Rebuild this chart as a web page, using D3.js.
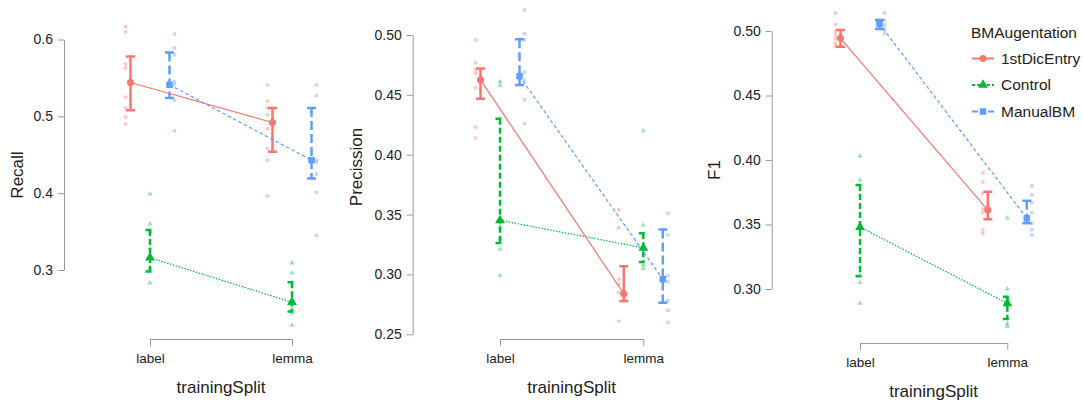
<!DOCTYPE html>
<html>
<head>
<meta charset="utf-8">
<script src="https://cdn.jsdelivr.net/npm/d3@7"></script>
<style>
  body { margin: 0; background: #fff; }
  svg { display: block; font-family: "Liberation Sans", Arial, sans-serif; }
  .axis path, .axis line { stroke: #9a9a9a; stroke-width: 1; }
  .axis text { fill: #222; }
</style>
</head>
<body>
<script>
var width = 1083;
var height = 403;

var splits = ["label", "lemma"];
var groups = ["1stDicEntry", "Control", "ManualBM"];
var colors = ["#F8766D", "#00BA38", "#619CFF"];

// means / CI per group, per split
var recallMean = [[0.544, 0.492], [0.316, 0.258], [0.541, 0.443]];
var recallLo   = [[0.508, 0.454], [0.298, 0.246], [0.524, 0.419]];
var recallHi   = [[0.578, 0.511], [0.352, 0.284], [0.583, 0.511]];
var recallRaw = [
  [[0.617, 0.610, 0.568, 0.563, 0.525, 0.511, 0.499, 0.490], [0.541, 0.520, 0.511, 0.502, 0.484, 0.458, 0.443, 0.396]],
  [[0.399, 0.360, 0.350, 0.328, 0.318, 0.302, 0.283], [0.309, 0.296, 0.262, 0.250, 0.244, 0.228]],
  [[0.607, 0.589, 0.580, 0.545, 0.541, 0.521, 0.481], [0.541, 0.527, 0.443, 0.440, 0.425, 0.401, 0.345]]
];
var recallTicks = [0.3, 0.4, 0.5, 0.6];

var precMean = [[0.4625, 0.2838], [0.3452, 0.3222], [0.4656, 0.2960]];
var precLo   = [[0.4467, 0.2778], [0.3262, 0.3104], [0.4582, 0.2764]];
var precHi   = [[0.4721, 0.3069], [0.4300, 0.3344], [0.4965, 0.3375]];
var precRaw = [
  [[0.496, 0.477, 0.471, 0.468, 0.456, 0.423, 0.414], [0.354, 0.339, 0.296, 0.292, 0.285, 0.261]],
  [[0.461, 0.458, 0.340, 0.330, 0.321, 0.299], [0.420, 0.341, 0.321, 0.308, 0.305]],
  [[0.521, 0.501, 0.496, 0.469, 0.462, 0.446, 0.426], [0.351, 0.333, 0.299, 0.294, 0.278, 0.270, 0.260]]
];
var precTicks = [0.25, 0.30, 0.35, 0.40, 0.45, 0.50];

var f1Mean = [[0.4943, 0.3612], [0.3480, 0.2889], [0.5055, 0.3548]];
var f1Lo   = [[0.4878, 0.3540], [0.3098, 0.2767], [0.5016, 0.3509]];
var f1Hi   = [[0.5008, 0.3754], [0.3806, 0.2940], [0.5085, 0.3685]];
var f1Raw = [
  [[0.514, 0.505, 0.4995, 0.497, 0.494, 0.4905, 0.488], [0.390, 0.383, 0.374, 0.362, 0.359, 0.346, 0.343]],
  [[0.403, 0.3845, 0.311, 0.305, 0.289], [0.355, 0.300, 0.293, 0.273, 0.271]],
  [[0.514, 0.5085, 0.505, 0.502, 0.498], [0.380, 0.373, 0.367, 0.359, 0.351, 0.346, 0.342]]
];
var f1Ticks = [0.30, 0.35, 0.40, 0.45, 0.50];

var panels = [
  {title: "Recall", mean: recallMean, lo: recallLo, hi: recallHi, raw: recallRaw, ticks: recallTicks, fmt: ".1f",
   axisX: 64, xr: [150, 292], yr: [270, 39.5], axisY: 339, titleX: 17, titleY: 175, xTitleY: 387},
  {title: "Precission", mean: precMean, lo: precLo, hi: precHi, raw: precRaw, ticks: precTicks, fmt: ".2f",
   axisX: 412.7, xr: [500, 643.3], yr: [334.3, 35], axisY: 339, titleX: 356.5, titleY: 167, xTitleY: 387},
  {title: "F1", mean: f1Mean, lo: f1Lo, hi: f1Hi, raw: f1Raw, ticks: f1Ticks, fmt: ".2f",
   axisX: 771.7, xr: [860, 1007.3], yr: [289, 31], axisY: 343, titleX: 714, titleY: 170, xTitleY: 391}
];

var meanDodge = [-19.5, 0, 19.5];
var rawDodge = [-24.5, 0, 24.5];
var barDash = [null, "6,3", "9,4"];
var lineDash = [null, "1.5,1.5", "3.5,2.5"];

var svg = d3.select("body")
            .append("svg")
            .attr("width", width)
            .attr("height", height);

var symbols = [d3.symbolCircle, d3.symbolTriangle, d3.symbolSquare];
var meanSize = [40, 42, 42];
var rawSize = [12, 12, 12];

panels.forEach(function(p) {
  var x = d3.scalePoint().domain(splits).range(p.xr);
  var y = d3.scaleLinear().domain(d3.extent(p.ticks)).range(p.yr);
  var g = svg.append("g");

  // y axis (range frame)
  var ya = g.append("g")
    .attr("class", "axis")
    .attr("transform", "translate(" + p.axisX + ",0)")
    .call(d3.axisLeft(y).tickValues(p.ticks).tickFormat(d3.format(p.fmt)).tickSize(6).tickSizeOuter(0).tickPadding(5));
  ya.selectAll("text").style("font-size", "14px");

  var xa = g.append("g")
    .attr("class", "axis")
    .attr("transform", "translate(0," + p.axisY + ")")
    .call(d3.axisBottom(x).tickSize(7).tickSizeOuter(0).tickPadding(7));
  xa.selectAll("text").style("font-size", "13.5px");
  ya.select(".domain").attr("fill", "none");
  xa.select(".domain").attr("fill", "none");

  g.append("text")
    .attr("transform", "translate(" + p.titleX + "," + p.titleY + ") rotate(-90)")
    .attr("text-anchor", "middle")
    .attr("dy", "0.35em")
    .style("font-size", "17px")
    .attr("fill", "#222")
    .text(p.title);

  g.append("text")
    .attr("x", (p.xr[0] + p.xr[1]) / 2)
    .attr("y", p.xTitleY)
    .attr("text-anchor", "middle")
    .attr("dy", "0.35em")
    .style("font-size", "17px")
    .attr("fill", "#222")
    .text("trainingSplit");

  // raw points
  groups.forEach(function(grp, gi) {
    splits.forEach(function(s, si) {
      g.selectAll(null)
        .data(p.raw[gi][si])
        .enter()
        .append("path")
        .attr("d", d3.symbol().type(symbols[gi]).size(rawSize[gi]))
        .attr("transform", function(d) { return "translate(" + (x(s) + rawDodge[gi]) + "," + y(d) + ")"; })
        .attr("fill", colors[gi])
        .attr("opacity", 0.4);
    });
  });

  // error bars
  groups.forEach(function(grp, gi) {
    splits.forEach(function(s, si) {
      var cx = x(s) + meanDodge[gi];
      var top = y(p.hi[gi][si]), bot = y(p.lo[gi][si]);
      var path = "M" + (cx - 4.5) + "," + top + "H" + (cx + 4.5) +
                 "M" + cx + "," + top + "V" + bot +
                 "M" + (cx - 4.5) + "," + bot + "H" + (cx + 4.5);
      g.append("path")
        .attr("d", path)
        .attr("fill", "none")
        .attr("stroke", colors[gi])
        .attr("stroke-width", 2.5)
        .attr("stroke-dasharray", barDash[gi]);
    });
  });

  // connecting lines
  var line = d3.line();
  groups.forEach(function(grp, gi) {
    var pts = splits.map(function(s, si) { return [x(s) + meanDodge[gi], y(p.mean[gi][si])]; });
    g.append("path")
      .attr("d", line(pts))
      .attr("fill", "none")
      .attr("stroke", colors[gi])
      .attr("stroke-width", 1.2)
      .attr("stroke-dasharray", lineDash[gi]);
  });

  // mean markers
  groups.forEach(function(grp, gi) {
    g.selectAll(null)
      .data(splits)
      .enter()
      .append("path")
      .attr("d", d3.symbol().type(symbols[gi]).size(meanSize[gi]))
      .attr("transform", function(s, si) { return "translate(" + (x(s) + meanDodge[gi]) + "," + y(p.mean[gi][si]) + ")"; })
      .attr("fill", colors[gi]);
  });
});

// legend
var legend = svg.append("g").attr("transform", "translate(971,0)");
legend.append("text")
  .attr("x", 0)
  .attr("y", 32.5)
  .attr("dy", "0.35em")
  .style("font-size", "15.5px")
  .attr("fill", "#222")
  .text("BMAugentation");

var legendY = [58.5, 85, 111.5];
var legendDash = [null, "3,2", "6,2"];
groups.forEach(function(grp, gi) {
  var ly = legendY[gi];
  legend.append("line")
    .attr("x1", 1).attr("x2", 23)
    .attr("y1", ly).attr("y2", ly)
    .attr("stroke", colors[gi])
    .attr("stroke-width", 2)
    .attr("stroke-dasharray", legendDash[gi]);
  legend.append("path")
    .attr("d", d3.symbol().type(symbols[gi]).size(meanSize[gi]))
    .attr("transform", "translate(12," + ly + ")")
    .attr("fill", colors[gi]);
  legend.append("text")
    .attr("x", 30)
    .attr("y", ly)
    .attr("dy", "0.35em")
    .style("font-size", "15.5px")
    .attr("fill", "#222")
    .text(grp);
});
</script>
</body>
</html>
